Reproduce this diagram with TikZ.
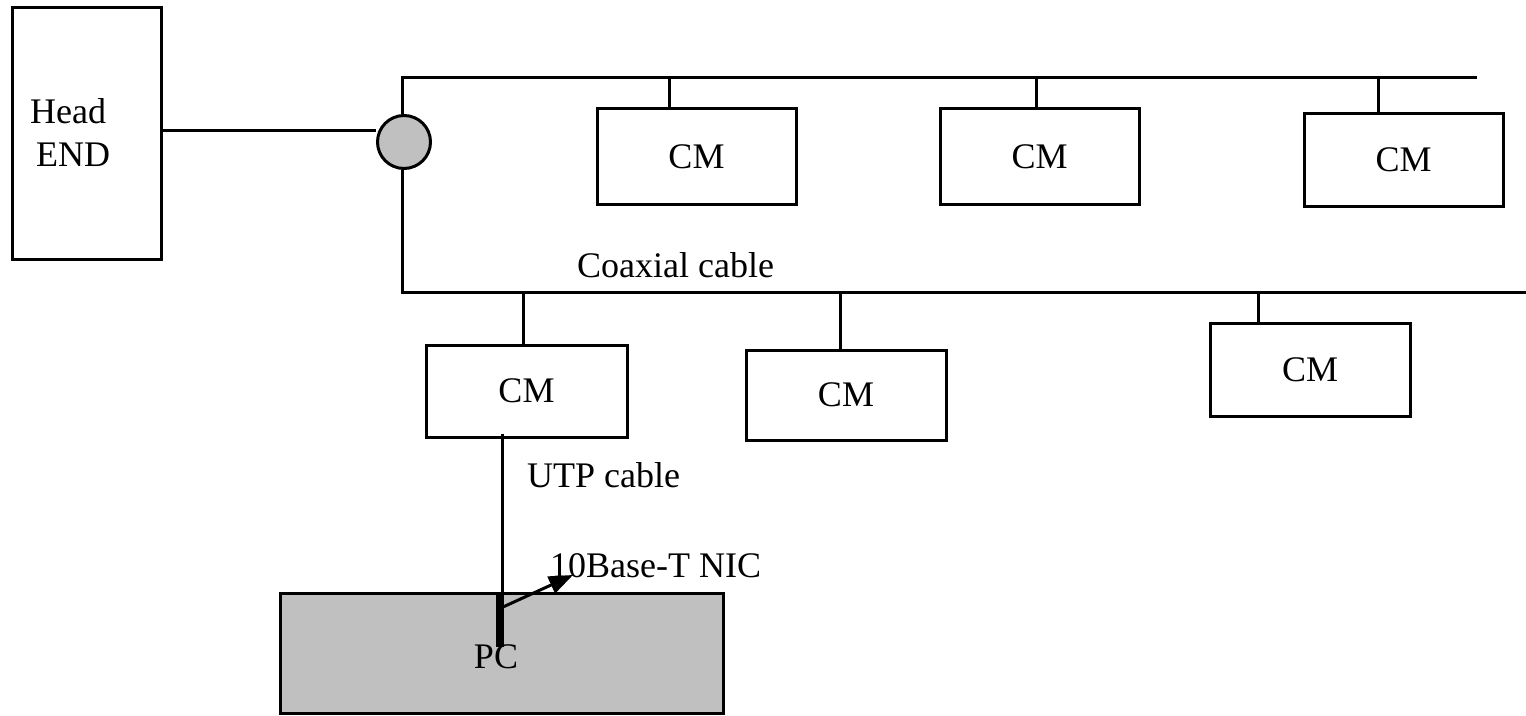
\documentclass[tikz,border=0pt]{standalone}
\usepackage{fontspec}
\setmainfont{Liberation Serif}
\usetikzlibrary{arrows.meta}
\definecolor{pcgray}{RGB}{192,192,192}
\begin{document}
\begin{tikzpicture}[x=1pt,y=-1pt,
  every node/.style={font=\fontsize{36}{43}\selectfont, inner sep=0pt},
  wire/.style={line width=3pt},
  box/.style={draw, line width=3pt, rectangle},
  cmbox/.style={box, minimum width=199pt, minimum height=96pt},
  lbl/.style={anchor=base west}]
\useasboundingbox (0,0) rectangle (1526,715);
% Head END
\node[box, minimum width=149pt, minimum height=252pt] (head) at (86.5,133) {};
\node[lbl] (headt) at (30,123) {Head};
\node[lbl] (endt) at (36,166) {END};
% hub
\node[circle, draw, line width=3pt, fill=pcgray, minimum size=53pt] (hub) at (404,142) {};
% bus coordinates
\coordinate (tl) at (402,77);
\coordinate (tr) at (1477,77);
\coordinate (bl) at (402,292);
\coordinate (br) at (1526,292);
% top CMs
\node[cmbox] (cm1) at (696.5,156.5) {CM};
\node[cmbox] (cm2) at (1039.5,156.5) {CM};
\node[cmbox, minimum height=93pt] (cm3) at (1403.5,159.5) {CM};
% bottom CMs
\node[cmbox, minimum width=201pt, minimum height=92pt] (cm4) at (526.5,391) {CM};
\node[cmbox, minimum width=200pt, minimum height=90pt] (cm5) at (846,395) {CM};
\node[cmbox, minimum width=200pt, minimum height=93pt] (cm6) at (1310,369.5) {CM};
% PC
\node[box, fill=pcgray, minimum width=443pt, minimum height=120pt] (pc) at (501.5,653) {};
\node[anchor=base] (pct) at (496,668) {PC};
\node[draw=none, fill=black, minimum width=8pt, minimum height=54pt, anchor=north] (nic) at (500,593) {};
\coordinate (tip) at (573,575);
% labels
\node[lbl] (coax) at (577,277) {Coaxial cable};
\node[lbl] (utp) at (527,487) {UTP cable};
\node[lbl] (nict) at (550,577) {10Base-T NIC};
% helper coordinates
\coordinate (hout) at ([yshift=3pt]head.east);
\coordinate (utpa) at ([xshift=-24.5pt,yshift=5pt]cm4.south);
\coordinate (nica) at ([xshift=3pt,yshift=-14pt]nic.north);
% wires
\draw[wire] (hout) -- (hout -| hub.west);
\draw[wire] (hub.north -| tl) -- (tl) -- (tr);
\draw[wire] (hub.south -| bl) -- (bl) -- (br);
\draw[wire] ([xshift=-27.5pt]cm1.north) -- ([xshift=-27.5pt]cm1.north |- tl);
\draw[wire] ([xshift=-3.5pt]cm2.north) -- ([xshift=-3.5pt]cm2.north |- tl);
\draw[wire] ([xshift=-25.5pt]cm3.north) -- ([xshift=-25.5pt]cm3.north |- tl);
\draw[wire] ([xshift=-3.5pt]cm4.north) -- ([xshift=-3.5pt]cm4.north |- bl);
\draw[wire] ([xshift=-6pt]cm5.north) -- ([xshift=-6pt]cm5.north |- bl);
\draw[wire] ([xshift=-52pt]cm6.north) -- ([xshift=-52pt]cm6.north |- bl);
\draw[wire] (utpa) -- (utpa |- pc.north);
\draw[wire, -{Triangle[length=24pt,width=18pt]}] (nica) -- (tip);
\end{tikzpicture}
\end{document}
